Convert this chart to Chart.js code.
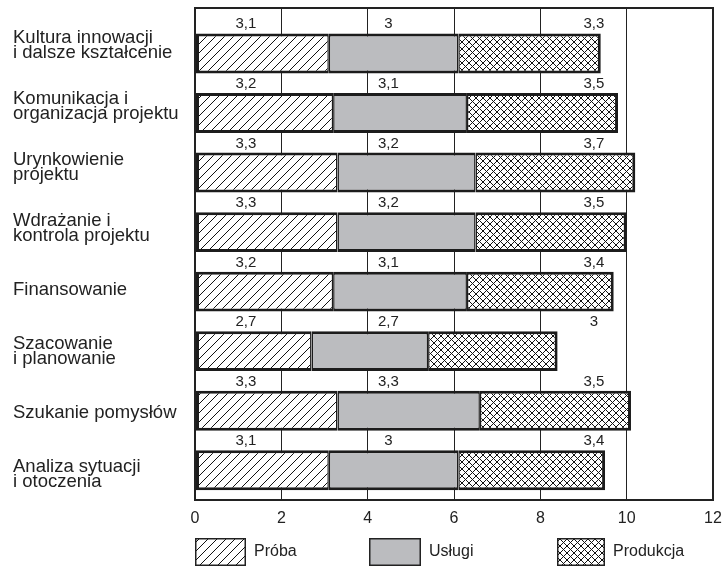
<!DOCTYPE html>
<html>
<head>
<meta charset="utf-8">
<script src="https://cdn.jsdelivr.net/npm/chart.js@4.4.1/dist/chart.umd.min.js"></script>
<style>
  html, body { margin: 0; padding: 0; background: #fff; }
  #wrap { width: 726px; height: 566px; }
</style>
</head>
<body>
<div id="wrap"><canvas id="chart" width="726" height="566"></canvas></div>
<script>
// dane
const categories = [
    ['Kultura innowacji', 'i dalsze kształcenie'],
    ['Komunikacja i', 'organizacja projektu'],
    ['Urynkowienie', 'projektu'],
    ['Wdrażanie i', 'kontrola projektu'],
    'Finansowanie',
    ['Szacowanie', 'i planowanie'],
    'Szukanie pomysłów',
    ['Analiza sytuacji', 'i otoczenia']
];
const proba = [3.1, 3.2, 3.3, 3.3, 3.2, 2.7, 3.3, 3.1];
const uslugi = [3, 3.1, 3.2, 3.2, 3.1, 2.7, 3.3, 3];
const produkcja = [3.3, 3.5, 3.7, 3.5, 3.4, 3, 3.5, 3.4];
const xTicks = [0, 2, 4, 6, 8, 10, 12];

const FONT = '"Liberation Sans", Arial, sans-serif';
Chart.defaults.font.family = FONT;
Chart.defaults.color = '#222';

const canvas = document.getElementById('chart');
const ctx = canvas.getContext('2d');

// wzory wypełnienia
function hatchPattern() {
    const c = document.createElement('canvas');
    c.width = 9; c.height = 9;
    const g = c.getContext('2d');
    g.fillStyle = '#fff';
    g.fillRect(0, 0, 9, 9);
    g.strokeStyle = '#111';
    g.lineWidth = 1;
    g.beginPath();
    g.moveTo(-1, 10); g.lineTo(10, -1);
    g.moveTo(-1, 1); g.lineTo(1, -1);
    g.moveTo(8, 10); g.lineTo(10, 8);
    g.stroke();
    return ctx.createPattern(c, 'repeat');
}

function crossPattern() {
    const c = document.createElement('canvas');
    c.width = 7; c.height = 7;
    const g = c.getContext('2d');
    g.fillStyle = '#fff';
    g.fillRect(0, 0, 7, 7);
    g.strokeStyle = '#111';
    g.lineWidth = 1;
    g.beginPath();
    g.moveTo(-1, -1); g.lineTo(8, 8);
    g.moveTo(8, -1); g.lineTo(-1, 8);
    g.stroke();
    return ctx.createPattern(c, 'repeat');
}

const points = arr => arr.map((v, i) => ({ x: v, y: i }));
const indexTicks = scale => { scale.ticks = categories.map((_, i) => ({ value: i })); };
const noMargins = s => { s.paddingTop = 0; s.paddingBottom = 0; s.paddingLeft = 0; s.paddingRight = 0; };

// wartości nad słupkami
const valueLabels = {
    id: 'valueLabels',
    afterDatasetsDraw(chart, args, opts) {
        const { x, y } = chart.scales;
        const c = chart.ctx;
        c.save();
        c.font = '15px ' + FONT;
        c.fillStyle = '#222';
        c.textAlign = 'center';
        c.textBaseline = 'middle';
        chart.data.datasets.forEach((ds, d) => {
            ds.data.forEach((p, i) => {
                c.fillText(String(p.x).replace('.', ','),
                    x.getPixelForValue(opts.columns[d]),
                    y.getPixelForValue(i - opts.lift));
            });
        });
        c.restore();
    }
};

// legenda pod osią
const legendBoxes = {
    id: 'legendBoxes',
    afterDraw(chart, args, opts) {
        const c = chart.ctx;
        chart.data.datasets.forEach((ds, i) => {
            const bx = opts.x[i], bw = opts.w[i];
            c.save();
            c.fillStyle = ds.backgroundColor;
            c.fillRect(bx, opts.top, bw, opts.h);
            c.strokeStyle = '#222';
            c.lineWidth = 1.5;
            c.strokeRect(bx + 0.75, opts.top + 0.75, bw - 1.5, opts.h - 1.5);
            c.fillStyle = '#222';
            c.font = '16px ' + FONT;
            c.textBaseline = 'middle';
            c.fillText(ds.label, bx + bw + 8, opts.top + opts.h / 2);
            c.restore();
        });
    }
};

const common = {
    borderColor: '#1c1c1c',
    borderSkipped: false,
    barPercentage: 0.67,
    categoryPercentage: 1,
    xAxisID: 'x',
    yAxisID: 'y'
};

new Chart(ctx, {
    type: 'bar',
    data: {
        datasets: [
            Object.assign({
                label: 'Próba',
                data: points(proba),
                backgroundColor: hatchPattern(),
                borderWidth: { left: 3, top: 3, bottom: 3, right: 1.5 }
            }, common),
            Object.assign({
                label: 'Usługi',
                data: points(uslugi),
                backgroundColor: '#bbbcbf',
                borderWidth: { left: 1.5, top: 3, bottom: 3, right: 1.5 }
            }, common),
            Object.assign({
                label: 'Produkcja',
                data: points(produkcja),
                backgroundColor: crossPattern(),
                borderWidth: { left: 1.5, top: 3, bottom: 3, right: 3 }
            }, common)
        ]
    },
    options: {
        indexAxis: 'y',
        responsive: false,
        animation: false,
        layout: { padding: { top: 8, left: 13, right: 13, bottom: 38 } },
        scales: {
            x: {
                type: 'linear',
                position: 'bottom',
                stacked: true,
                offset: false,
                min: 0,
                max: 12,
                afterBuildTicks: s => { s.ticks = xTicks.map(v => ({ value: v })); },
                afterFit: s => { noMargins(s); s.height = 28; },
                ticks: { font: { size: 16 }, padding: 9, color: '#222' },
                grid: {
                    color: '#222',
                    drawTicks: false,
                    lineWidth: c => (c.tick && (c.tick.value === 0 || c.tick.value === 12)) ? 2 : 1
                },
                border: { color: '#222', width: 2 }
            },
            x2: {
                type: 'linear',
                position: 'top',
                offset: false,
                afterFit: s => { noMargins(s); s.height = 0; },
                ticks: { display: false },
                grid: { display: false, drawTicks: false },
                border: { color: '#222', width: 2 }
            },
            y: {
                type: 'linear',
                position: 'left',
                weight: 0,
                stacked: true,
                offset: false,
                reverse: true,
                min: -0.764,
                max: 7.5,
                afterBuildTicks: indexTicks,
                afterFit: s => { noMargins(s); s.width = 0; },
                ticks: { display: false },
                grid: { display: false, drawTicks: false },
                border: { color: '#222', width: 2 }
            },
            yl: {
                type: 'linear',
                position: 'left',
                weight: 1,
                offset: false,
                reverse: true,
                min: -0.604,
                max: 7.424,
                afterBuildTicks: indexTicks,
                afterFit: s => { noMargins(s); s.width = 182; },
                ticks: {
                    crossAlign: 'far',
                    padding: 0,
                    color: '#222',
                    font: { size: 18.5, lineHeight: 0.81 },
                    callback: v => categories[v]
                },
                grid: { display: false, drawTicks: false },
                border: { display: false }
            }
        },
        plugins: {
            legend: { display: false },
            tooltip: { enabled: false },
            valueLabels: { columns: [1.18, 4.48, 9.24], lift: 0.49 },
            legendBoxes: { x: [195, 369, 557], w: [51, 52, 48], top: 538, h: 28 }
        }
    },
    plugins: [valueLabels, legendBoxes]
});
</script>
</body>
</html>
